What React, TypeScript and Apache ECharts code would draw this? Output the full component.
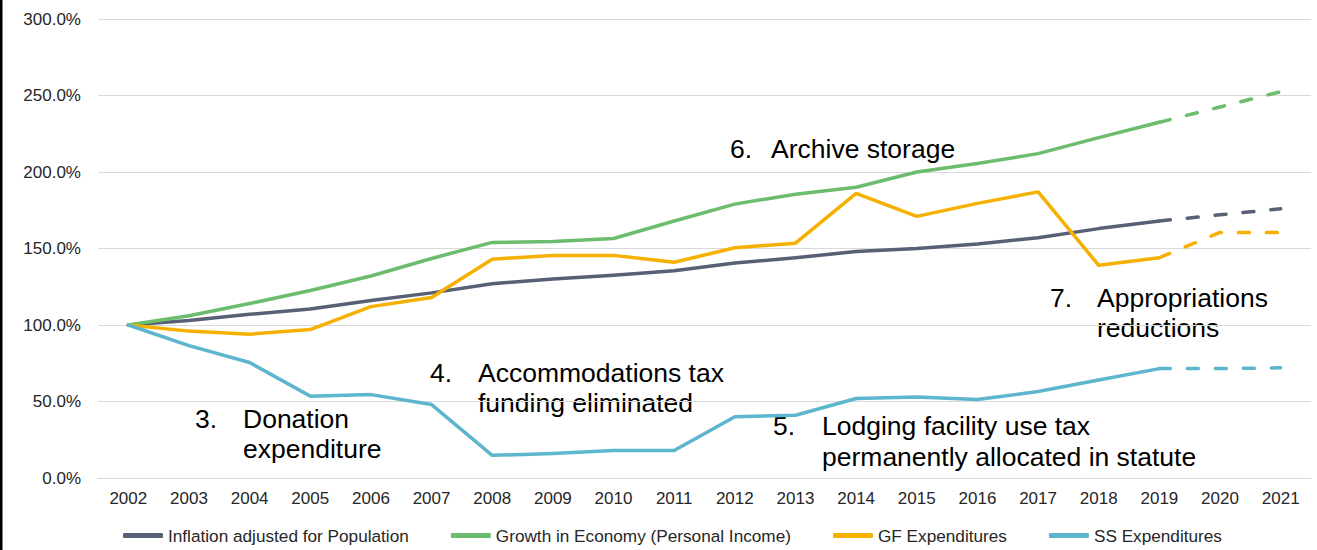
import React, { useEffect, useRef } from "react";
import * as echarts from "echarts";

const years = ["2002","2003","2004","2005","2006","2007","2008","2009","2010","2011","2012","2013","2014","2015","2016","2017","2018","2019","2020","2021"];
const inflation = [100, 103, 107, 110.5, 116, 121, 127, 130, 132.5, 135.5, 140.5, 144, 148, 150, 153, 157, 163, 168, 172, 176];
const economy = [100, 106, 114, 122.5, 132, 143.5, 154, 154.5, 156.5, 168, 179, 185.5, 190, 200, 205.5, 212, 222.5, 232.5, 242.5, 252.5];
const gfExp = [100, 96, 94, 97, 112, 118, 143, 145.5, 145.5, 141, 150.5, 153.5, 186, 171, 179.5, 187, 139, 144, 160.5, 160.5];
const ssExp = [100, 86.5, 75.5, 53.5, 54.5, 48, 14.8, 16, 18, 18, 40, 41, 52, 53, 51.3, 56.5, 64, 71.5, 71.5, 72];
const yTicks = [0, 50, 100, 150, 200, 250, 300];
const projStart = 17; // index of 2019

const seriesDefs = [
  { name: "Inflation adjusted for Population", data: inflation, color: "#586075" },
  { name: "Growth in Economy (Personal Income)", data: economy, color: "#6bbd6d" },
  { name: "GF Expenditures", data: gfExp, color: "#f6b000" },
  { name: "SS Expenditures", data: ssExp, color: "#5db5ce" },
];

const annotations = [
  { num: "3.", nx: 195, tx: 243, lines: ["Donation", "expenditure"], ys: [428, 458] },
  { num: "4.", nx: 430, tx: 478, lines: ["Accommodations tax", "funding eliminated"], ys: [382, 412] },
  { num: "6.", nx: 730, tx: 771, lines: ["Archive storage"], ys: [158] },
  { num: "5.", nx: 773, tx: 822, lines: ["Lodging facility use tax", "permanently allocated in statute"], ys: [435, 466] },
  { num: "7.", nx: 1050, tx: 1097, lines: ["Appropriations", "reductions"], ys: [307, 337] },
];

const FONT = "'Liberation Sans', Arial, sans-serif";

export default function App() {
  const ref = useRef<HTMLDivElement>(null);
  useEffect(() => {
    if (!ref.current) return;
    const chart = echarts.init(ref.current, null, { renderer: "svg" });
    const series: any[] = [];
    seriesDefs.forEach((s) => {
      series.push({
        name: s.name,
        type: "line",
        data: s.data.map((v, i) => (i <= projStart ? v : null)),
        showSymbol: false,
        symbol: "none",
        lineStyle: { color: s.color, width: 3.5, cap: "round", join: "round" },
        itemStyle: { color: s.color },
        z: 3,
      });
      series.push({
        name: s.name + " (projected)",
        type: "line",
        data: s.data.map((v, i) => (i >= projStart ? v : null)),
        showSymbol: false,
        symbol: "none",
        lineStyle: { color: s.color, width: 3.5, type: [11, 17], cap: "round" },
        itemStyle: { color: s.color },
        z: 3,
      });
    });
    const graphics: any[] = [
      { type: "rect", shape: { x: 0, y: 0, width: 2.5, height: 550 }, style: { fill: "#000" } },
    ];
    annotations.forEach((a) => {
      graphics.push({
        type: "text", x: a.nx, y: a.ys[0] - 9,
        style: { text: a.num, font: `26.5px ${FONT}`, fill: "#000", textVerticalAlign: "middle" },
      });
      a.lines.forEach((l, i) => {
        graphics.push({
          type: "text", x: a.tx, y: a.ys[i] - 9,
          style: { text: l, font: `26.5px ${FONT}`, fill: "#000", textVerticalAlign: "middle" },
        });
      });
    });
    chart.setOption({
      animation: false,
      backgroundColor: "#fff",
      textStyle: { fontFamily: FONT },
      grid: { left: 98, right: 6, top: 19, bottom: 72 },
      legend: {
        data: seriesDefs.map((s) => s.name),
        left: 118,
        top: 522,
        icon: "roundRect",
        itemWidth: 40,
        itemHeight: 5,
        itemGap: 42,
        textStyle: { fontSize: 17.2, color: "#262626", fontFamily: FONT },
      },
      xAxis: {
        type: "category",
        data: years,
        boundaryGap: true,
        axisLine: { show: true, lineStyle: { color: "#d9d9d9", width: 1 } },
        axisTick: { show: false },
        axisLabel: { fontSize: 17, color: "#262626", margin: 12, interval: 0, fontFamily: FONT },
      },
      yAxis: {
        type: "value",
        min: yTicks[0],
        max: yTicks[yTicks.length - 1],
        interval: 50,
        axisLine: { show: false },
        axisTick: { show: false },
        axisLabel: { fontSize: 17, color: "#262626", margin: 17, fontFamily: FONT, formatter: (v: number) => v.toFixed(1) + "%" },
        splitLine: { lineStyle: { color: "#d9d9d9", width: 1 } },
      },
      graphic: graphics,
      series,
    });
    return () => chart.dispose();
  }, []);
  return <div ref={ref} style={{ position: "absolute", left: 0, top: 0, width: 1317, height: 550 }} />;
}
